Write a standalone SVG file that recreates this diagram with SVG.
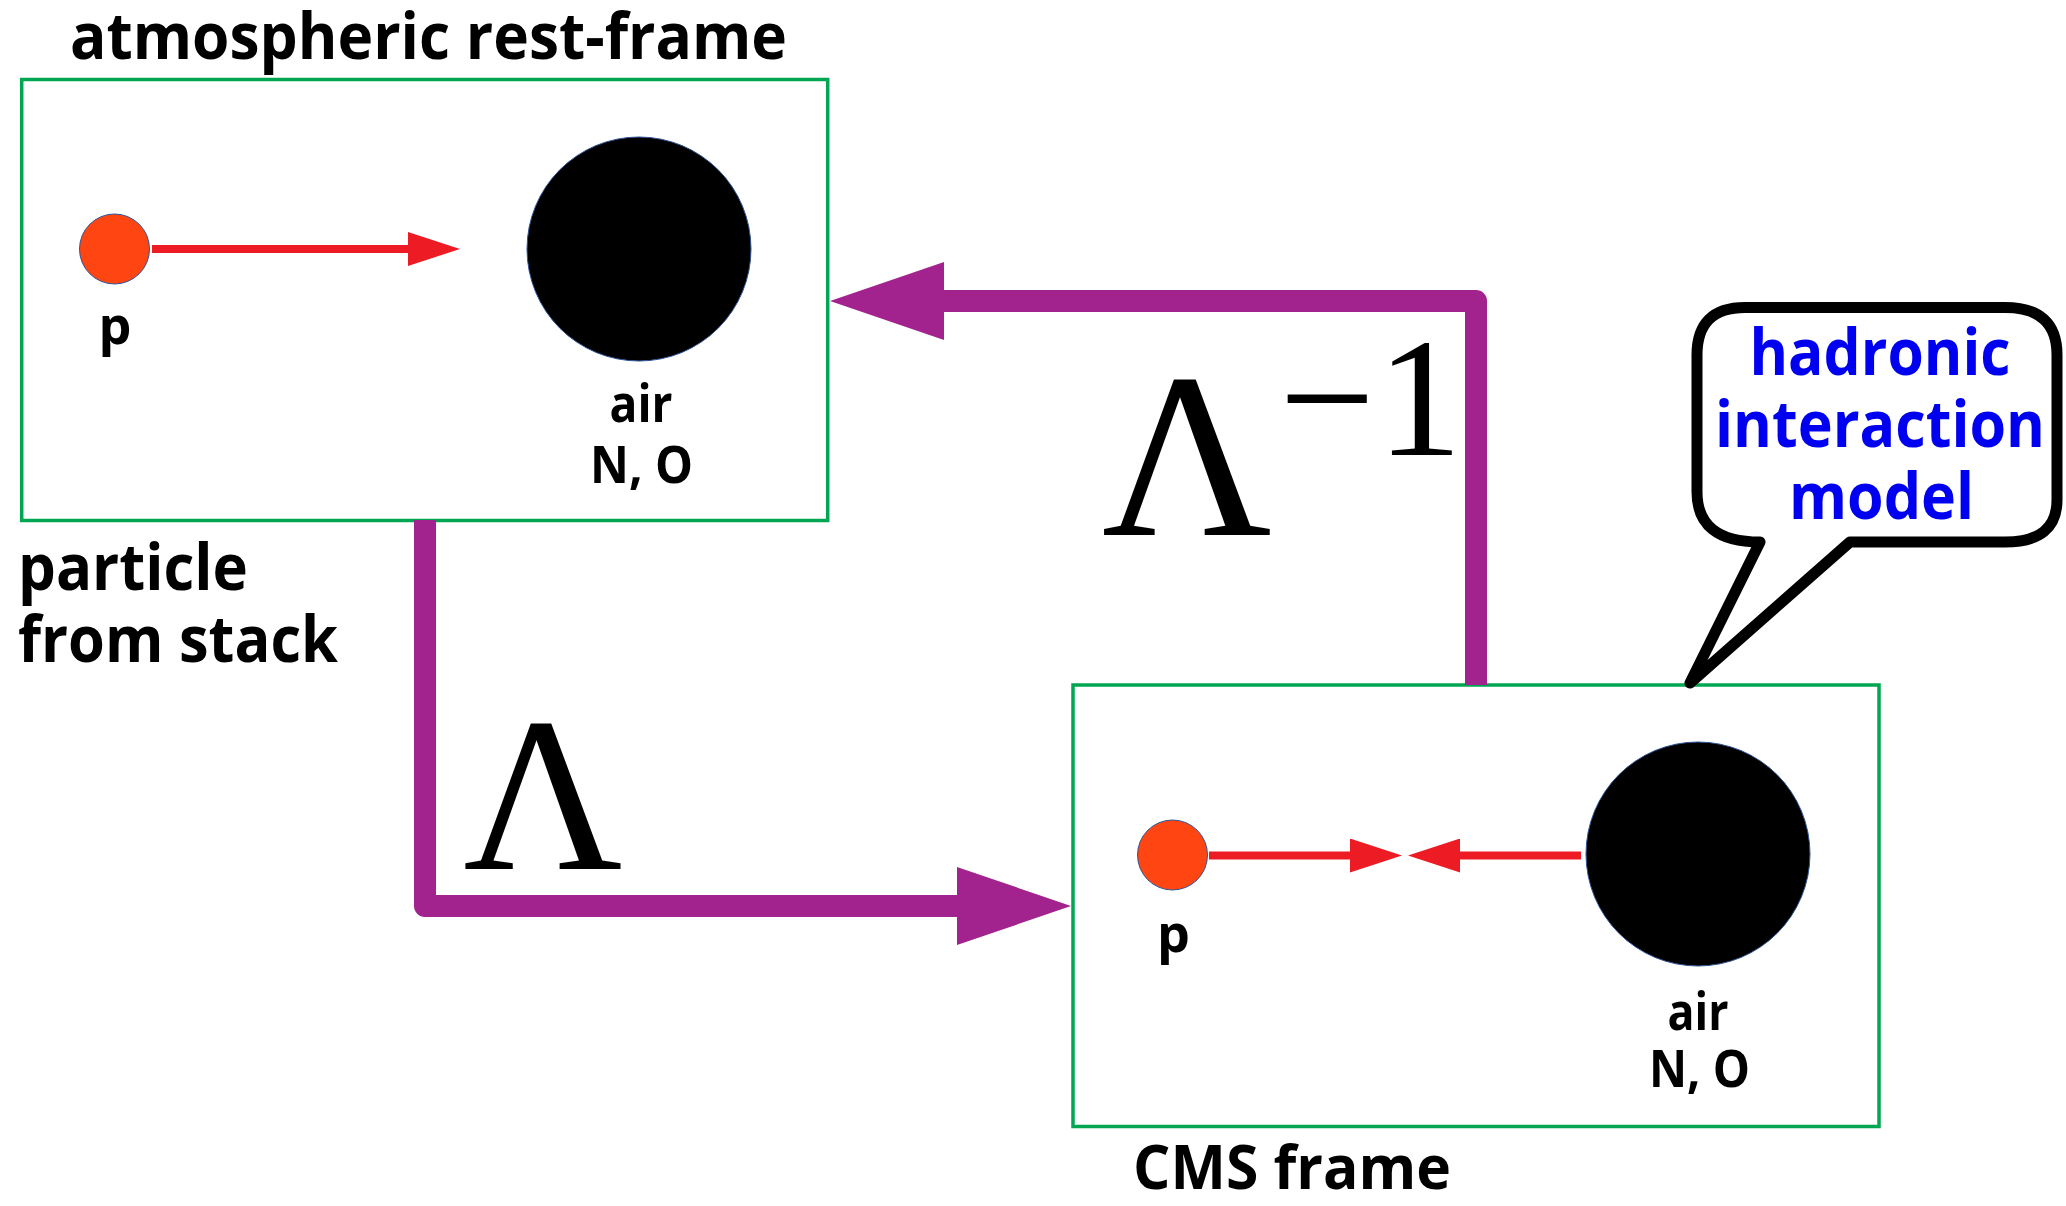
<svg xmlns="http://www.w3.org/2000/svg" width="2066" height="1206" viewBox="0 0 2066 1206">
<style>
.lbl{font-family:"Open Sans","Liberation Sans",sans-serif;font-weight:bold;fill:#000}
.frame{fill:none;stroke:#00a651;stroke-width:3.5}
.purple{fill:none;stroke:#a3238e;stroke-width:22;stroke-linejoin:round;stroke-linecap:butt}
.red{fill:none;stroke:#ed1c24;stroke-width:8}
.proton{fill:#ff4512;stroke:#2f5597;stroke-width:1}
.nucleus{fill:#000;stroke:#2f5597;stroke-width:1}
.math{font-family:"Liberation Serif","DejaVu Serif",serif;fill:#000}
.blue{font-family:"Open Sans","Liberation Sans",sans-serif;font-weight:bold;fill:#0000f0}
</style>
<defs>
<marker id="bigHead" viewBox="0 0 114 78" refX="0" refY="39" markerWidth="114" markerHeight="78" markerUnits="userSpaceOnUse" orient="auto">
<polygon points="0,0 114,39 0,78" fill="#a3238e"/>
</marker>
<marker id="redHead" viewBox="0 0 52 34" refX="0" refY="17" markerWidth="52" markerHeight="34" markerUnits="userSpaceOnUse" orient="auto">
<polygon points="0,0 52,17 0,34" fill="#ed1c24"/>
</marker>
</defs>
<rect width="2066" height="1206" fill="#fff"/>

<g id="atmospheric-frame">
<text class="lbl" x="70" y="59" font-size="64" textLength="717" lengthAdjust="spacingAndGlyphs">atmospheric rest-frame</text>
<rect class="frame" x="21.7" y="79.5" width="806" height="441"/>
</g>

<g id="atm-proton">
<circle class="proton" cx="114.5" cy="249" r="35"/>
<text class="lbl" x="115" y="344" font-size="52" text-anchor="middle">p</text>
</g>

<g id="atm-air">
<circle class="nucleus" cx="639" cy="249" r="112"/>
<text class="lbl" x="641" y="422" font-size="52" text-anchor="middle" textLength="63" lengthAdjust="spacingAndGlyphs">air</text>
<text class="lbl" x="641.5" y="483" font-size="52" text-anchor="middle" textLength="103" lengthAdjust="spacingAndGlyphs">N, O</text>
</g>

<g id="particle-label">
<text class="lbl" x="18" y="590" font-size="64" textLength="230" lengthAdjust="spacingAndGlyphs">particle</text>
<text class="lbl" x="18" y="662" font-size="64" textLength="320" lengthAdjust="spacingAndGlyphs">from stack</text>
</g>

<g id="cms-frame">
<rect class="frame" x="1073" y="685" width="806" height="441.5"/>
<text class="lbl" x="1133" y="1189" font-size="61" textLength="318" lengthAdjust="spacingAndGlyphs">CMS frame</text>
</g>

<g id="cms-proton">
<circle class="proton" cx="1172.5" cy="855" r="35"/>
<text class="lbl" x="1173.5" y="952" font-size="52" text-anchor="middle">p</text>
</g>

<g id="cms-air">
<circle class="nucleus" cx="1698" cy="854" r="112"/>
<text class="lbl" x="1698" y="1030" font-size="52" text-anchor="middle" textLength="61" lengthAdjust="spacingAndGlyphs">air</text>
<text class="lbl" x="1699.5" y="1087" font-size="52" text-anchor="middle" textLength="101" lengthAdjust="spacingAndGlyphs">N, O</text>
</g>

<g id="balloon">
<path d="M1697 355 Q1697 307.5 1745 307.5 L2005 307.5 Q2057 307.5 2057 355 L2057 500 Q2057 542 2005 542 L1850 542 L1690 683 L1760 542 Q1697 542 1697 492 Z" fill="#fff" stroke="#000" stroke-width="11" stroke-linejoin="round"/>
<text class="blue" x="1880" y="375" font-size="64" text-anchor="middle" textLength="261" lengthAdjust="spacingAndGlyphs">hadronic</text>
<text class="blue" x="1880" y="447" font-size="64" text-anchor="middle" textLength="330" lengthAdjust="spacingAndGlyphs">interaction</text>
<text class="blue" x="1881.5" y="519" font-size="64" text-anchor="middle" textLength="185" lengthAdjust="spacingAndGlyphs">model</text>
</g>

<g id="connectors">
<path class="red" d="M152 249 H408" marker-end="url(#redHead)"/>
<path class="red" d="M1209 855.5 H1350" marker-end="url(#redHead)"/>
<path class="red" d="M1581 855.5 H1460" marker-end="url(#redHead)"/>
<path class="purple" d="M425 520 V906 H957" marker-end="url(#bigHead)"/>
<path class="purple" d="M1476 685 V301 H944" marker-end="url(#bigHead)"/>
<text class="math" x="543" y="869" font-size="220" text-anchor="middle">Λ</text>
<text class="math" x="1187" y="535" font-size="235" text-anchor="middle">Λ</text>
<text class="math" x="1327" y="455" font-size="170" text-anchor="middle">−</text>
<text class="math" x="1419.5" y="455" font-size="170" text-anchor="middle">1</text>
</g>
</svg>
